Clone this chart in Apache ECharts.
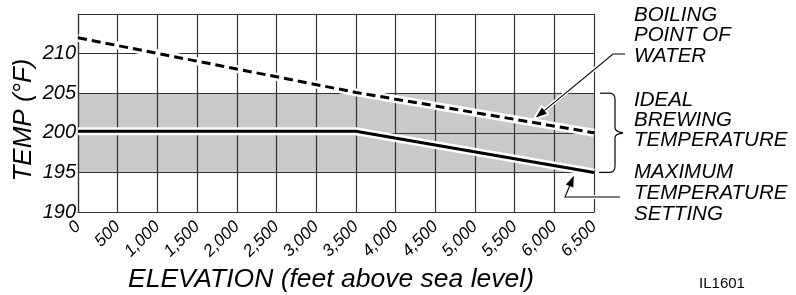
<!DOCTYPE html>
<html>
<head>
<meta charset="utf-8">
<script src="https://cdn.jsdelivr.net/npm/echarts@6/dist/echarts.min.js"></script>
<style>
  html, body { margin: 0; padding: 0; background: #fff; }
  #chart { width: 796px; height: 295px; }
</style>
</head>
<body>
<div id="chart"></div>
<script>
// data
var elevation = [0, 3500, 6500];
var boilingPoint = [212, 205.1, 200];
var maxTemp = [200.2, 200.2, 195];
var idealRange = [195, 205];
var tempTicks = [190, 195, 200, 205, 210];

var FONT = '"Liberation Sans", Arial, sans-serif';

function pairs(xs, ys) {
    return xs.map(function (x, i) { return [x, ys[i]]; });
}
function interp(xs, ys, x) {
    for (var i = 1; i < xs.length; i++) {
        if (x <= xs[i]) {
            var t = (x - xs[i - 1]) / (xs[i] - xs[i - 1]);
            return ys[i - 1] + t * (ys[i] - ys[i - 1]);
        }
    }
    return ys[ys.length - 1];
}

(function () {
    var chart = echarts.init(document.getElementById('chart'), null, { renderer: 'canvas' });
    var axisColor = '#333';

    chart.setOption({
        animation: false,
        backgroundColor: '#fff',
        grid: { left: 78, right: 202, top: 14, bottom: 83 },
        xAxis: {
            type: 'value',
            min: 0,
            max: 6500,
            interval: 500,
            z: 1,
            axisLine: { show: true, lineStyle: { color: axisColor, width: 1.2 } },
            axisTick: { show: false },
            splitLine: { show: true, lineStyle: { color: axisColor, width: 1.2 } },
            axisLabel: {
                rotate: 45,
                margin: 12,
                fontSize: 17,
                fontStyle: 'italic',
                fontFamily: FONT,
                color: '#000',
                formatter: function (v) { return v.toLocaleString('en-US'); }
            }
        },
        yAxis: {
            type: 'value',
            min: 190,
            max: 215,
            interval: 5,
            z: 1,
            axisLine: { show: true, lineStyle: { color: axisColor, width: 1.2 } },
            axisTick: { show: false },
            splitLine: { show: true, lineStyle: { color: axisColor, width: 1.2 } },
            axisLabel: {
                margin: 2,
                fontSize: 20,
                fontStyle: 'italic',
                fontFamily: FONT,
                color: '#000',
                formatter: function (v) { return tempTicks.indexOf(v) >= 0 ? String(v) : ''; }
            }
        },
        series: [
            {
                name: 'ideal',
                type: 'line',
                z: 0,
                silent: true,
                symbol: 'none',
                lineStyle: { opacity: 0 },
                data: pairs(elevation, elevation.map(function () { return idealRange[1]; })),
                markArea: {
                    z: 0,
                    silent: true,
                    itemStyle: { color: '#c9c9c9' },
                    data: [[
                        { xAxis: elevation[0], yAxis: idealRange[0] },
                        { xAxis: elevation[elevation.length - 1], yAxis: idealRange[1] }
                    ]]
                }
            },
            {
                name: 'max halo', type: 'line', z: 3, silent: true, symbol: 'none',
                lineStyle: { color: '#fff', width: 8 },
                data: pairs(elevation, maxTemp)
            },
            {
                name: 'max', type: 'line', z: 4, silent: true, symbol: 'none',
                lineStyle: { color: '#000', width: 3 },
                data: pairs(elevation, maxTemp)
            },
            {
                name: 'boil halo', type: 'line', z: 3, silent: true, symbol: 'none',
                lineStyle: { color: '#fff', width: 8 },
                data: pairs(elevation, boilingPoint)
            },
            {
                name: 'boil', type: 'line', z: 4, silent: true, symbol: 'none',
                lineStyle: { color: '#000', width: 3, type: [9, 5] },
                data: pairs(elevation, boilingPoint)
            }
        ]
    });

    // annotations
    function toPx(x, y) { return chart.convertToPixel({ gridIndex: 0 }, [x, y]); }

    function arrowTo(from, target, back) {
        var dx = target[0] - from[0], dy = target[1] - from[1];
        var len = Math.sqrt(dx * dx + dy * dy);
        var ux = dx / len, uy = dy / len;
        var tip = [target[0] - ux * back, target[1] - uy * back];
        var hl = 11, hw = 4;
        var bx = tip[0] - ux * hl, by = tip[1] - uy * hl;
        var head = [tip, [bx - uy * hw, by + ux * hw], [bx + uy * hw, by - ux * hw]];
        return { tip: tip, base: [bx, by], head: head };
    }

    function leader(points, arrow) {
        return [
            { type: 'polyline', z: 50, shape: { points: points }, style: { stroke: '#fff', lineWidth: 4, fill: null } },
            { type: 'polygon', z: 50, shape: { points: arrow.head }, style: { fill: '#fff', stroke: '#fff', lineWidth: 4, lineJoin: 'round' } },
            { type: 'polyline', z: 51, shape: { points: points }, style: { stroke: '#000', lineWidth: 1.1, fill: null } },
            { type: 'polygon', z: 52, shape: { points: arrow.head }, style: { fill: '#000' } }
        ];
    }

    function textLines(lines, x, y0, step) {
        return lines.map(function (s, i) {
            return {
                type: 'text', z: 60, x: x, y: y0 + i * step,
                style: {
                    text: s, fill: '#000', font: 'italic 20.5px ' + FONT,
                    textAlign: 'left', textVerticalAlign: 'middle'
                }
            };
        });
    }

    var boilAt = 5700;
    var boilPt = toPx(boilAt, interp(elevation, boilingPoint, boilAt));
    var boilFrom = [613, 54];
    var boilArrow = arrowTo(boilFrom, boilPt, 7);

    var maxAt = 6280;
    var maxPt = toPx(maxAt, interp(elevation, maxTemp, maxAt));
    var maxFrom = [565, 197];
    var maxArrow = arrowTo(maxFrom, maxPt, 7);

    var g = [];
    g = g.concat(leader([[625, 54], boilFrom, boilArrow.base], boilArrow));
    g = g.concat(leader([[620, 197], maxFrom, maxArrow.base], maxArrow));

    // brace for the ideal range
    var bandTop = toPx(0, idealRange[1])[1], bandBot = toPx(0, idealRange[0])[1];
    var mid = (bandTop + bandBot) / 2;
    function seg(x1, y1, x2, y2) {
        return { type: 'line', z: 55, shape: { x1: x1, y1: y1, x2: x2, y2: y2 },
            style: { stroke: '#000', lineWidth: 1.2, fill: null } };
    }
    function curve(x1, y1, cx, cy, x2, y2) {
        return { type: 'bezierCurve', z: 55, shape: { x1: x1, y1: y1, cpx1: cx, cpy1: cy, x2: x2, y2: y2 },
            style: { stroke: '#000', lineWidth: 1.2, fill: null } };
    }
    g.push(seg(600, bandTop, 609, bandTop));
    g.push(curve(609, bandTop, 615, bandTop, 615, bandTop + 6));
    g.push(seg(615, bandTop + 6, 615, mid - 5));
    g.push(curve(615, mid - 5, 615, mid - 1, 623, mid));
    g.push(curve(623, mid, 615, mid + 1, 615, mid + 5));
    g.push(seg(615, mid + 5, 615, bandBot - 6));
    g.push(curve(615, bandBot - 6, 615, bandBot, 609, bandBot));
    g.push(seg(609, bandBot, 599, bandBot));

    g = g.concat(textLines(['BOILING', 'POINT OF', 'WATER'], 634, 15, 20.5));
    g = g.concat(textLines(['IDEAL', 'BREWING', 'TEMPERATURE'], 634, 100, 20.3));
    g = g.concat(textLines(['MAXIMUM', 'TEMPERATURE', 'SETTING'], 634, 172.5, 21));

    g.push({
        type: 'text', z: 60, x: 24, y: 120, rotation: Math.PI / 2,
        style: { text: 'TEMP (°F)', fill: '#000', font: 'italic 26px ' + FONT, textAlign: 'center', textVerticalAlign: 'middle' }
    });
    g.push({
        type: 'text', z: 60, x: 331, y: 280,
        style: { text: 'ELEVATION (feet above sea level)', fill: '#000', font: 'italic 26.5px ' + FONT, textAlign: 'center', textVerticalAlign: 'middle' }
    });
    g.push({
        type: 'text', z: 60, x: 722, y: 284,
        style: { text: 'IL1601', fill: '#000', font: '15px ' + FONT, textAlign: 'center', textVerticalAlign: 'middle' }
    });

    chart.setOption({ graphic: g });
})();
</script>
</body>
</html>
